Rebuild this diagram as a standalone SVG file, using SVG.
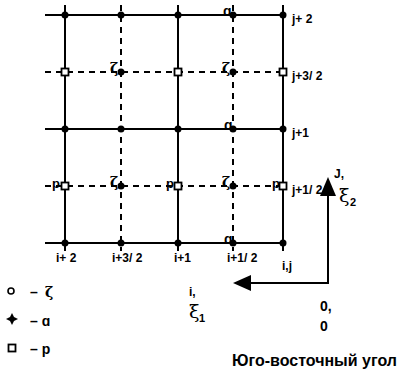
<svg xmlns="http://www.w3.org/2000/svg" width="403" height="374" viewBox="0 0 403 374">
<style>
.s{stroke:#000;stroke-width:2;fill:none}
.d{stroke:#000;stroke-width:2;fill:none;stroke-dasharray:6 5}
.t{font-family:"Liberation Sans","DejaVu Sans",sans-serif;font-weight:bold;fill:#000}
.sm{font-size:12px}
.g{font-family:"DejaVu Serif","Liberation Serif",serif;font-weight:bold;fill:#000}
.x{font-family:"DejaVu Serif","Liberation Serif",serif;font-weight:normal;fill:#000;font-size:19px}
.dot{fill:#000}
.sq{fill:#fff;stroke:#000;stroke-width:1.8}
.ci{fill:#fff;stroke:#000;stroke-width:1.6}
</style>
<rect width="403" height="374" fill="#fff"/>
<g id="connectors">
<line class="s" x1="45" y1="15" x2="283" y2="15"/>
<line class="s" x1="45" y1="129" x2="283" y2="129"/>
<line class="s" x1="45" y1="243" x2="283" y2="243"/>
<line class="d" x1="45" y1="72" x2="283" y2="72"/>
<line class="d" x1="45" y1="186" x2="283" y2="186"/>
<line class="s" x1="65" y1="5" x2="65" y2="251"/>
<line class="s" x1="178" y1="5" x2="178" y2="251"/>
<line class="s" x1="283" y1="5" x2="283" y2="251"/>
<line class="d" x1="121" y1="5" x2="121" y2="251"/>
<line class="d" x1="233" y1="5" x2="233" y2="251"/>
<line class="s" x1="328" y1="190" x2="328" y2="283"/>
<line class="s" x1="248" y1="283" x2="329" y2="283"/>
<polygon class="dot" points="328,177 320,196 336,196"/>
<polygon class="dot" points="233,283 251,275 251,291"/>
</g>
<g id="q-nodes">
<circle class="dot" cx="65" cy="15" r="3.5"/><circle class="dot" cx="121" cy="15" r="3.5"/><circle class="dot" cx="178" cy="15" r="3.5"/><circle class="dot" cx="233" cy="15" r="3.5"/><circle class="dot" cx="283" cy="15" r="3.5"/>
<circle class="dot" cx="65" cy="129" r="3.5"/><circle class="dot" cx="121" cy="129" r="3.5"/><circle class="dot" cx="178" cy="129" r="3.5"/><circle class="dot" cx="233" cy="129" r="3.5"/><circle class="dot" cx="283" cy="129" r="3.5"/>
<circle class="dot" cx="65" cy="243" r="3.5"/><circle class="dot" cx="121" cy="243" r="3.5"/><circle class="dot" cx="178" cy="243" r="3.5"/><circle class="dot" cx="233" cy="243" r="3.5"/><circle class="dot" cx="283" cy="243" r="3.5"/>
<text class="t" x="223" y="16" font-size="14">ɑ</text>
<text class="t" x="224" y="130" font-size="14">ɑ</text>
<text class="t" x="224" y="244" font-size="14">ɑ</text>
</g>
<g id="zeta-nodes">
<circle class="dot" cx="121" cy="72" r="3.5"/><circle class="dot" cx="233" cy="72" r="3.5"/>
<circle class="dot" cx="121" cy="186" r="3.5"/><circle class="dot" cx="233" cy="186" r="3.5"/>
<text class="g" x="110" y="73" font-size="14">ζ</text>
<text class="g" x="222" y="73" font-size="14">ζ</text>
<text class="g" x="110" y="187" font-size="14">ζ</text>
<text class="g" x="222" y="187" font-size="14">ζ</text>
</g>
<g id="p-nodes">
<text class="t" x="52" y="188" font-size="13">p</text>
<text class="t" x="166" y="188" font-size="13">p</text>
<text class="t" x="272" y="188" font-size="13">p</text>
<rect class="sq" x="61.5" y="68.5" width="7" height="7"/><rect class="sq" x="174.5" y="68.5" width="7" height="7"/><rect class="sq" x="279.5" y="68.5" width="7" height="7"/>
<rect class="sq" x="61.5" y="182.5" width="7" height="7"/><rect class="sq" x="174.5" y="182.5" width="7" height="7"/><rect class="sq" x="279.5" y="182.5" width="7" height="7"/>
</g>
<g id="labels">
<text class="t sm" x="292" y="23">j+ 2</text>
<text class="t sm" x="292" y="80">j+3/ 2</text>
<text class="t sm" x="292" y="137">j+1</text>
<text class="t sm" x="292" y="194">j+1/ 2</text>
<text class="t sm" x="56" y="262">i+ 2</text>
<text class="t sm" x="112" y="262">i+3/ 2</text>
<text class="t sm" x="174" y="262">i+1</text>
<text class="t sm" x="227" y="262">i+1/ 2</text>
<text class="t" x="334" y="178" font-size="12">J,</text>
<text class="x" x="339" y="202">ξ</text>
<text class="t" x="350" y="206" font-size="11">2</text>
<text class="t" x="282" y="270" font-size="12">i,j</text>
<text class="t" x="189" y="296" font-size="12">i,</text>
<text class="x" x="189" y="318">ξ</text>
<text class="t" x="199" y="322" font-size="11">1</text>
<text class="t" x="320" y="311" font-size="14">0,</text>
<text class="t" x="320" y="331" font-size="14">0</text>
<text class="t" x="232" y="366" font-size="16">Юго-восточный угол</text>
</g>
<g id="legend">
<circle class="ci" cx="11" cy="291" r="3"/>
<text class="t" x="30" y="297" font-size="14">– </text><text class="g" x="45" y="297" font-size="14">ζ</text>
<path class="dot" d="M12 313 L14 317 L18 319 L14 321 L12 325 L10 321 L6 319 L10 317 Z"/>
<text class="t" x="30" y="326" font-size="14">– ɑ</text>
<rect class="sq" x="8.5" y="344.5" width="7" height="7" stroke-width="2"/>
<text class="t" x="30" y="354" font-size="14">– p</text>
</g>
</svg>
